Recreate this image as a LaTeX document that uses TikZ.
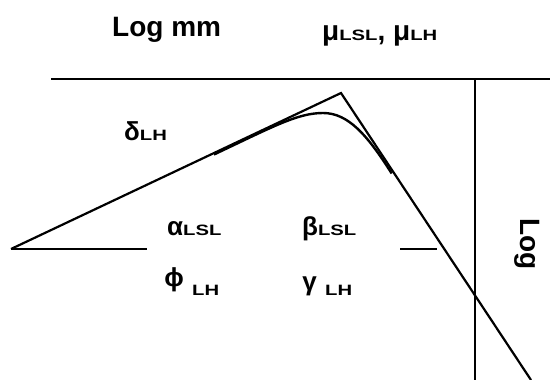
\documentclass[tikz,border=0pt]{standalone}
\usepackage{fontspec}
\setmainfont{Liberation Sans}
\newfontfamily\subfont[FakeStretch=1.35]{Liberation Sans}
\newcommand{\smtxt}[1]{{\subfont\bfseries\fontsize{15}{17}\selectfont #1}}
\begin{document}
\begin{tikzpicture}[x=1pt,y=-1pt,
  ln/.style={line width=2.2pt, line join=miter},
  crv/.style={line width=2.4pt},
  big/.style={font=\bfseries\fontsize{28}{30}\selectfont, inner sep=0pt},
  gr/.style={font=\bfseries\fontsize{26}{28}\selectfont, inner sep=0pt},
  sub/.style={font=\subfont\bfseries\fontsize{15}{17}\selectfont, inner sep=0pt}]
\useasboundingbox (0,0) rectangle (550,380);
% frame lines
\coordinate (tl) at (51,79);
\coordinate (tr) at (550,79);
\coordinate (vt) at (475,79);
\coordinate (vb) at (475,380);
\draw[ln] (tl) -- (tr);
\draw[ln] (vt) -- (vb);
% triangle
\coordinate (tip) at (11,249);
\coordinate (apex) at (341,93);
\coordinate (bot) at (531,380);
\draw[ln] (tip) -- (apex) -- (bot);
\coordinate (bl) at (147,249);
\draw[ln] (tip) -- (bl);
\coordinate (b2a) at (400,249);
\coordinate (b2b) at (437,249);
\draw[ln] (b2a) -- (b2b);
% curve
\coordinate (c0) at (214,154.5);
\coordinate (cp) at (323,113);
\coordinate (c1) at (391.7,173.5);
\draw[crv] (c0) .. controls (274,126.1) and (298,113) .. (cp)
  .. controls (348,113) and (367,134.5) .. (c1);
% labels
\node[big, anchor=base west] (logmm) at (112,37) {Log mm};
\node[big, anchor=base west] (mu) at (322,40) {μ\smtxt{LSL}, μ\smtxt{LH}};
\node[gr, anchor=base west] (delta) at (124,140) {δ\smtxt{LH}};
\node[gr, anchor=base west] (alpha) at (167,235) {α\smtxt{LSL}};
\node[gr, anchor=base west] (beta) at (302,235) {β\smtxt{LSL}};
\node[gr] (phi) at (174,280) {ϕ};
\node[sub, anchor=base west] (philh) at (192,295) {LH};
\node[gr] (gamma) at (309.5,286) {γ};
\node[sub, anchor=base west] (gammalh) at (325,295) {LH};
\node[big, rotate=-90] (logv) at (527,244) {Log};
\end{tikzpicture}
\end{document}
